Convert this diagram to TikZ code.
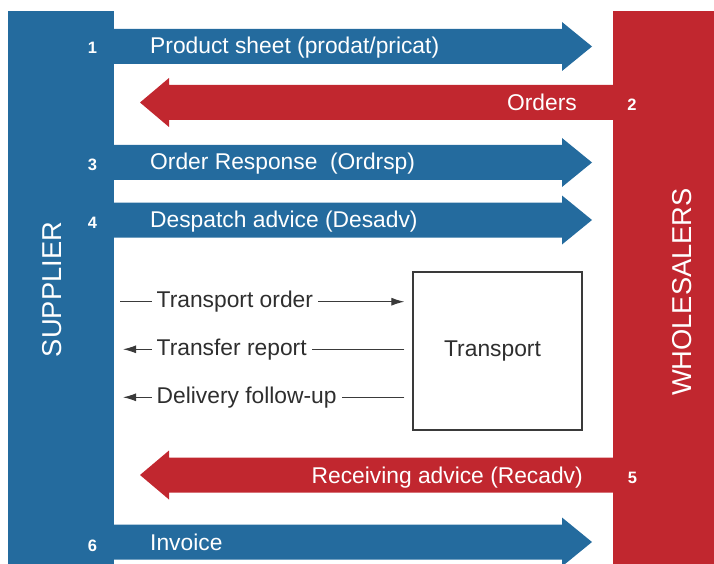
\documentclass[tikz,border=0pt]{standalone}
\usepackage{fontspec}
\setmainfont{Liberation Sans}
\usetikzlibrary{arrows.meta}
\definecolor{sblue}{HTML}{246B9E}
\definecolor{wred}{HTML}{C1272F}
\definecolor{tgray}{HTML}{2E2E2E}
\definecolor{lgray}{HTML}{3A3A3A}
\begin{document}
\begin{tikzpicture}[x=1pt,y=-1pt,
  lbl/.style={font=\fontsize{22.8}{27}\selectfont, inner sep=0pt, text=white},
  num/.style={font=\bfseries\fontsize{16.5}{20}\selectfont, text=white, inner sep=0pt, anchor=base},
  bar/.style={inner sep=0pt, outer sep=0pt, anchor=north west},
  side/.style={font=\fontsize{27.3}{32}\selectfont, text=white, inner sep=0pt, rotate=90},
  flow/.style={font=\fontsize{22.8}{27}\selectfont, text=tgray, inner ysep=0pt, inner xsep=5pt, anchor=base west},
  conn/.style={draw=lgray, line width=1.1pt},
  tip/.style={-{Latex[length=13pt,width=8pt]}},
  boxst/.style={draw=lgray, line width=1.2pt, minimum width=169pt, minimum height=158pt, inner sep=0pt,
    font=\fontsize{22.8}{27}\selectfont, text=tgray}
]
\useasboundingbox (0,0) rectangle (714,564);
% side bars
\node[bar, fill=sblue, minimum width=106pt, minimum height=553pt] (sup) at (8,11) {};
\node[bar, fill=wred, minimum width=101pt, minimum height=553pt] (whl) at (613,11) {};
\node[side] (suptext) at (52,289.5) {SUPPLIER};
\node[side] (whltext) at (682,292) {WHOLESALERS};
% blue arrows (supplier -> wholesalers)
\foreach \c in {46.5,162.5,220,542}{
  \fill[sblue] (110,{\c-17.5}) -- (562,{\c-17.5}) -- (562,{\c-24.5}) -- (592,\c)
     -- (562,{\c+24.5}) -- (562,{\c+17.5}) -- (110,{\c+17.5}) -- cycle;
}
% red arrows (wholesalers -> supplier)
\foreach \c in {102.5,475}{
  \fill[wred] (617,{\c-17.5}) -- (169,{\c-17.5}) -- (169,{\c-24.5}) -- (140,\c)
     -- (169,{\c+24.5}) -- (169,{\c+17.5}) -- (617,{\c+17.5}) -- cycle;
}
% labels on arrows
\node[lbl, anchor=base west] (l1) at (150,54) {Product sheet (prodat/pricat)};
\node[lbl, anchor=base east] (l2) at (577,111) {Orders};
\node[lbl, anchor=base west] (l3) at (150,169.5) {Order Response\ \ (Ordrsp)};
\node[lbl, anchor=base west] (l4) at (150,227) {Despatch advice (Desadv)};
\node[lbl, anchor=base east] (l5) at (583,483.5) {Receiving advice (Recadv)};
\node[lbl, anchor=base west] (l6) at (150,550) {Invoice};
% numbers
\node[num] (n1) at (92.5,54) {1};
\node[num] (n2) at (632,111) {2};
\node[num] (n3) at (92.5,171) {3};
\node[num] (n4) at (92.5,228) {4};
\node[num] (n5) at (632.5,483.5) {5};
\node[num] (n6) at (92.5,551) {6};
% transport box
\node[boxst] (box) at (497.5,351) {\hspace*{-10pt}Transport};
% transport flows (baseline 6pt below the connector line)
\node[flow] (t1) at (151.5,307.7) {Transport order};
\node[flow] (t2) at (151.5,355.3) {Transfer report};
\node[flow] (t3) at (151.5,403.3) {Delivery follow-up};
\coordinate (a1) at ([yshift=6pt]t1.base west);
\coordinate (b1) at ([yshift=6pt]t1.base east);
\coordinate (a2) at ([yshift=6pt]t2.base west);
\coordinate (b2) at ([yshift=6pt]t2.base east);
\coordinate (a3) at ([yshift=6pt]t3.base west);
\coordinate (b3) at ([yshift=6pt]t3.base east);
\draw[conn, shorten <=6pt] (sup.east |- a1) -- (a1);
\draw[conn, tip, shorten >=8pt] (b1) -- (box.west |- b1);
\draw[conn, tip, shorten >=9pt] (a2) -- (sup.east |- a2);
\draw[conn, shorten <=8pt] (box.west |- b2) -- (b2);
\draw[conn, tip, shorten >=9pt] (a3) -- (sup.east |- a3);
\draw[conn, shorten <=8pt] (box.west |- b3) -- (b3);
\end{tikzpicture}
\end{document}
